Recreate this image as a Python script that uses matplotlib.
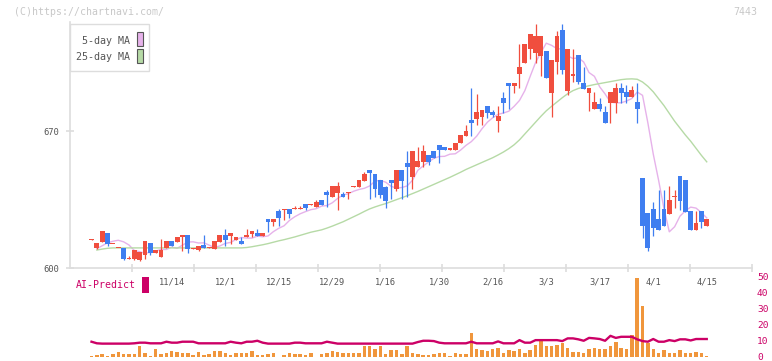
import matplotlib
matplotlib.use('Agg')
import matplotlib.pyplot as plt
import numpy as np
from matplotlib.patches import Rectangle
from matplotlib.transforms import blended_transform_factory

# ---------------- data ----------------
opens = [614.5, 610.2, 613.3, 617.9, 612.3, 610.3, 610.4, 604.8, 604.6, 604.1,
         607.0, 612.8, 607.8, 605.8, 610.4, 613.8, 613.3, 616.2, 616.9, 609.9,
         609.2, 611.8, 610.5, 609.9, 613.3, 616.9, 616.4, 614.3, 613.8, 616.2,
         617.5, 617.9, 616.5, 625.0, 623.5, 629.1, 629.6, 630.1, 630.1, 630.1,
         632.7, 632.4, 631.2, 634.7, 638.8, 636.4, 638.5, 637.8, 638.3, 641.6,
         641.5, 644.6, 650.1, 648.0, 645.0, 641.5, 645.0, 640.2, 650.1, 653.6,
         646.7, 651.8, 654.3, 657.7, 659.8, 662.9, 661.8, 660.5, 660.3, 663.7,
         667.6, 675.6, 676.3, 677.3, 682.8, 679.7, 675.3, 686.9, 694.5, 693.2,
         699.1, 704.5, 711.9, 709.8, 708.3, 711.0, 689.6, 705.4, 721.6, 690.4,
         698.3, 708.8, 694.5, 689.4, 681.2, 683.8, 679.7, 684.3, 684.3, 692.0,
         689.9, 687.4, 684.8, 646.0, 628.1, 630.1, 625.0, 630.1, 627.6, 636.5,
         647.0, 645.0, 629.1, 619.4, 629.1, 621.5]
highs = [614.9, 612.8, 618.9, 617.9, 612.6, 610.6, 610.4, 606.1, 609.2, 608.1,
         613.8, 612.8, 609.2, 614.8, 613.8, 613.8, 615.8, 616.9, 616.9, 610.6,
         611.6, 616.9, 610.8, 613.8, 616.9, 619.9, 617.9, 615.8, 615.8, 619.9,
         618.9, 619.9, 617.9, 625.0, 625.0, 630.1, 630.1, 630.1, 631.7, 631.7,
         632.7, 632.7, 634.7, 634.7, 639.9, 641.9, 644.0, 638.8, 638.8, 641.9,
         645.0, 649.1, 650.1, 648.0, 645.0, 641.9, 645.0, 650.1, 650.1, 659.8,
         659.8, 662.0, 662.9, 657.7, 659.8, 662.9, 661.8, 660.8, 663.9, 668.0,
         673.1, 691.7, 688.9, 680.7, 682.8, 680.7, 682.8, 689.9, 694.5, 694.5,
         714.5, 714.5, 719.6, 724.7, 718.6, 711.0, 706.0, 721.0, 724.7, 711.9,
         711.9, 708.8, 702.7, 692.0, 689.9, 686.9, 682.8, 689.9, 694.5, 694.5,
         693.5, 693.0, 694.5, 646.0, 628.1, 633.7, 639.9, 639.9, 641.9, 639.9,
         647.0, 645.0, 629.1, 629.1, 629.1, 625.0]
lows = [614.5, 609.6, 613.3, 611.6, 612.3, 610.3, 604.1, 604.8, 604.1, 603.8,
        604.7, 606.6, 607.8, 605.8, 610.4, 611.2, 613.3, 609.0, 607.8, 609.9,
        609.0, 610.2, 610.5, 609.9, 613.3, 611.2, 612.6, 614.3, 612.3, 616.2,
        615.8, 616.5, 616.5, 618.4, 621.5, 621.5, 624.5, 625.5, 630.1, 630.1,
        629.6, 632.4, 631.2, 632.2, 631.3, 636.4, 629.6, 636.4, 635.4, 641.6,
        641.5, 644.6, 635.1, 636.4, 636.0, 631.0, 635.4, 639.5, 635.4, 636.4,
        640.5, 651.8, 651.8, 652.9, 656.4, 653.5, 660.3, 660.5, 660.3, 663.7,
        667.6, 667.6, 673.2, 673.2, 676.5, 677.0, 669.6, 679.4, 681.2, 689.6,
        691.7, 704.5, 706.6, 704.5, 698.3, 697.2, 677.3, 699.3, 699.1, 688.4,
        695.2, 694.0, 691.5, 680.2, 681.2, 680.2, 674.1, 674.1, 679.2, 684.3,
        684.3, 687.4, 674.1, 615.3, 608.7, 616.4, 619.4, 621.5, 627.6, 630.7,
        629.6, 628.6, 619.4, 619.4, 620.4, 621.5]
closes = [614.9, 612.8, 618.9, 612.4, 612.6, 610.6, 604.8, 605.3, 609.2, 608.1,
          613.8, 607.8, 609.2, 609.2, 613.8, 611.2, 615.8, 616.9, 609.9, 610.6,
          611.6, 610.2, 610.8, 613.8, 616.9, 614.3, 617.9, 615.8, 612.3, 616.9,
          618.9, 616.5, 617.9, 623.5, 625.0, 625.5, 630.1, 627.6, 630.6, 630.6,
          630.7, 632.7, 633.7, 632.2, 637.5, 641.9, 641.9, 636.4, 638.8, 641.9,
          645.0, 648.0, 648.7, 640.5, 637.5, 634.4, 643.6, 650.1, 644.6, 651.8,
          659.8, 654.9, 659.8, 654.3, 656.4, 660.3, 660.3, 660.8, 663.9, 668.0,
          670.0, 674.2, 679.7, 680.7, 679.4, 678.3, 677.7, 684.5, 693.2, 694.5,
          702.9, 714.5, 719.6, 718.6, 718.6, 697.2, 706.0, 718.5, 701.2, 711.9,
          699.1, 695.2, 691.5, 692.0, 684.8, 681.2, 674.1, 689.9, 692.0, 689.4,
          687.4, 691.0, 681.2, 621.5, 610.2, 620.4, 619.4, 621.5, 634.7, 636.8,
          634.2, 628.6, 619.4, 623.0, 623.5, 625.0]

ma5 = [np.nan, 610.0, 611.5, 613.0, 613.8, 614.3, 613.5, 611.9, 609.1, 608.5,
       607.6, 608.2, 608.8, 609.6, 609.6, 610.8, 610.2, 611.8, 613.4, 613.5,
       612.9, 613.0, 611.8, 610.6, 611.4, 612.7, 613.2, 614.7, 615.7, 615.4,
       615.4, 616.4, 616.1, 616.5, 618.7, 620.4, 621.7, 624.4, 626.3, 627.8,
       628.9, 629.9, 630.4, 631.7, 632.0, 633.4, 635.6, 637.4, 638.0, 639.3,
       640.2, 640.8, 642.0, 644.5, 644.8, 643.9, 641.8, 640.9, 641.2, 642.0,
       644.9, 650.0, 652.2, 654.2, 656.1, 657.0, 657.1, 658.2, 658.4, 660.3,
       662.7, 664.6, 667.4, 671.2, 674.5, 676.8, 678.5, 679.2, 680.1, 682.6,
       685.6, 690.6, 697.9, 704.9, 710.0, 714.8, 713.7, 712.0, 711.8, 708.3,
       707.0, 707.3, 705.2, 699.8, 697.9, 692.5, 688.9, 684.7, 684.4, 684.4,
       685.3, 686.6, 689.9, 688.2, 674.1, 658.3, 644.9, 630.5, 618.6, 621.2,
       626.6, 629.3, 631.2, 630.7, 628.4, 625.7]
ma25 = [np.nan, 609.3, 609.8, 610.2, 610.4, 610.4, 610.4, 610.4, 610.4, 610.4,
        610.4, 610.4, 610.4, 610.4, 610.4, 610.4, 610.4, 610.4, 610.4, 610.4,
        610.4, 610.4, 610.4, 610.4, 610.4, 610.4, 610.4, 610.4, 610.4, 610.6,
        611.0, 611.5, 612.0, 612.6, 613.3, 614.0, 614.6, 615.3, 616.0, 616.8,
        617.6, 618.4, 619.0, 619.6, 620.5, 621.5, 622.6, 623.7, 625.0, 626.3,
        627.6, 629.0, 630.3, 631.3, 632.2, 633.0, 634.0, 635.0, 636.0, 637.0,
        638.1, 639.2, 640.4, 641.6, 642.8, 644.0, 645.2, 646.4, 647.7, 649.0,
        650.4, 651.6, 652.8, 654.0, 655.2, 656.4, 657.8, 659.3, 661.0, 663.0,
        665.5, 668.5, 671.5, 674.5, 677.5, 680.3, 682.6, 684.8, 687.0, 689.0,
        690.6, 691.7, 692.5, 693.1, 693.7, 694.2, 694.7, 695.2, 695.7, 696.2,
        696.5, 696.6, 696.4, 695.0, 692.8, 690.0, 686.5, 683.0, 679.0, 675.0,
        671.5, 668.0, 664.8, 661.2, 657.6, 654.3]

volume = [1, 1.5, 2, 1, 2, 3.5, 2, 2, 2, 7,
          3, 1, 5, 2, 2.5, 4, 3.5, 3, 2.5, 1.5,
          3.5, 1.5, 2, 4, 4, 3, 1.5, 2.5, 2.5, 2.5,
          4, 1.5, 1.5, 2, 2.5, 0.5, 1.5, 2.5, 2, 2,
          1.5, 3, 0.5, 2, 2.5, 4, 3.5, 2.5, 2.5, 3,
          2.5, 7, 7, 5.5, 7, 2, 4.5, 4.5, 2, 7,
          3, 2, 1.7, 1.7, 2, 3, 2.5, 1, 3, 2,
          2, 15, 5, 4.5, 4, 5.5, 6, 3, 4.5, 4,
          5, 3, 4.5, 8, 10, 7, 7, 8, 9, 6,
          3.5, 3.5, 3, 5.5, 6, 5, 5, 7, 9.5, 6,
          5, 14, 50, 32, 9, 5.5, 3, 4.5, 2.5, 2.5,
          4.5, 2.5, 2.5, 3.5, 3, 1]
ai_predict = [9.8, 8.8, 8.6, 8.6, 8.6, 8.6, 8.6, 8.6, 8.8, 9.2,
              9.2, 8.8, 8.8, 8.8, 9.8, 9.2, 9.2, 9.8, 9.8, 9.8,
              8.8, 8.8, 8.8, 8.8, 8.8, 8.8, 9.8, 9.2, 8.8, 9.8,
              9.8, 10.4, 9.2, 8.6, 8.6, 8.6, 8.6, 8.6, 9.2, 9.2,
              8.8, 8.8, 8.8, 8.8, 9.8, 9.2, 8.6, 8.6, 8.6, 8.6,
              8.6, 8.6, 8.6, 8.6, 8.6, 8.6, 8.6, 8.6, 8.6, 8.6,
              8.6, 9.6, 10.4, 10.4, 10.2, 9.2, 8.8, 8.8, 8.8, 8.8,
              8.8, 9.8, 8.8, 8.8, 8.8, 8.8, 10.0, 8.8, 8.8, 8.8,
              10.8, 9.2, 9.2, 10.8, 10.8, 10.8, 10.8, 10.8, 10.2, 11.9,
              11.9, 11.3, 10.4, 12.2, 11.9, 11.5, 10.4, 13.5, 12.2, 12.9,
              12.9, 12.9, 11.3, 10.2, 9.8, 11.5, 9.8, 9.8, 10.8, 10.2,
              11.3, 11.3, 10.6, 11.5, 11.5, 11.5]

date_labels = ['11/14', '12/1', '12/15', '12/29', '1/16', '1/30',
               '2/16', '3/3', '3/17', '4/1', '4/15']
date_label_idx = [15, 25, 35, 45, 55, 65, 75, 85, 95, 105, 115]
price_ticks = [600, 670]
vol_ticks = [0, 10, 20, 30, 40, 50]

# ---------------- style ----------------
RED = '#f04e3e'
BLUE = '#3f7ef0'
PINK = '#e6b2ea'
GREEN = '#b6daa6'
CRIMSON = '#cc0066'
ORANGE = '#f0963c'
AXIS = '#dddddd'
TXT = '#555555'
MONO = 'DejaVu Sans Mono'

W, H = 772, 361
fig = plt.figure(figsize=(W / 100, H / 100), dpi=100)


def px_axes(x0, y0, x1, y1):
    return fig.add_axes([x0 / W, 1 - y1 / H, (x1 - x0) / W, (y1 - y0) / H])


n = len(closes)
x = np.arange(n)
XL = (-4.02, 123.46)

# ---------------- volume / AI panel (drawn first, transparent) ----------------
ax2 = px_axes(70, 277.8, 752, 357.3)
ax2.set_facecolor('none')
ax2.set_xlim(*XL)
ax2.set_ylim(0, 50)
ax2.bar(x, volume, width=0.65, color=ORANGE, linewidth=0, zorder=2)
ax2.plot(x, ai_predict, color=CRIMSON, lw=1.7, zorder=3)
for s in ax2.spines.values():
    s.set_visible(False)
ax2.set_xticks([])
ax2.set_yticks([])
for v in vol_ticks:
    ax2.text(1.0, v, str(v), transform=blended_transform_factory(ax2.transAxes, ax2.transData),
             ha='left', va='center', fontsize=6.8, color=CRIMSON, fontfamily=MONO,
             clip_on=False)
# shift right-hand labels by a few pixels
for t in ax2.texts:
    t.set_x(1.0 + 5 / 682)

# ---------------- price panel ----------------
ax = px_axes(70, 22, 752, 268.3)
ax.set_facecolor('none')
ax.set_xlim(*XL)
ax.set_ylim(600, 600 + (268.3 - 22) / 1.961)

o = np.array(opens); c = np.array(closes)
up = c >= o
cols = [RED if u else BLUE for u in up]
ax.vlines(x, lows, highs, colors=cols, linewidth=0.9, zorder=3)
bottoms = np.minimum(o, c)
heights = np.maximum(np.abs(c - o), 0.6)
ax.bar(x, heights, bottom=bottoms, width=0.9, color=cols, linewidth=0, zorder=4)

ax.plot(x, ma5, color=PINK, lw=1.0, zorder=2)
ax.plot(x, ma25, color=GREEN, lw=1.0, zorder=2)

for s in ['top', 'right']:
    ax.spines[s].set_visible(False)
for s in ['left', 'bottom']:
    ax.spines[s].set_color(AXIS)
    ax.spines[s].set_linewidth(1.2)

ax.set_yticks(price_ticks)
ax.set_yticklabels([str(t) for t in price_ticks], fontfamily=MONO)
ax.tick_params(axis='y', direction='inout', length=6, color=AXIS, width=1.2,
               labelsize=6.3, labelcolor=TXT, pad=5)
major = [XL[0] + k * (XL[1] - XL[0]) / 11 for k in range(1, 12)]
ax.set_xticks(major)
ax.set_xticklabels([])
ax.tick_params(axis='x', direction='inout', length=6, color=AXIS, width=1.2)

tr = blended_transform_factory(ax.transData, ax.transAxes)
for idx, lab in zip(date_label_idx, date_labels):
    ax.text(idx, -0.056, lab, transform=tr, ha='center', va='center',
            fontsize=6.3, color=TXT, fontfamily=MONO, clip_on=False, zorder=10)

# ---------------- decorations ----------------
fig.text(14 / W, 1 - 12.3 / H, '(C)https://chartnavi.com/', fontsize=7.1,
         color='#c8c8c8', fontfamily=MONO, va='center', ha='left')
fig.text(757 / W, 1 - 12.3 / H, '7443', fontsize=7.1, color='#c8c8c8',
         fontfamily=MONO, va='center', ha='right')

fig.patches.append(Rectangle((70 / W, 1 - 71 / H), 79 / W, 47 / H,
                             transform=fig.transFigure, facecolor='white',
                             edgecolor=AXIS, linewidth=1.0, zorder=5))
fig.text(130 / W, 1 - 40.7 / H, '5-day MA', fontsize=7.2, color=TXT,
         fontfamily=MONO, ha='right', va='center', zorder=6)
fig.text(130 / W, 1 - 57.3 / H, '25-day MA', fontsize=7.2, color=TXT,
         fontfamily=MONO, ha='right', va='center', zorder=6)
fig.patches.append(Rectangle((137 / W, 1 - 46 / H), 5.5 / W, 14.5 / H,
                             transform=fig.transFigure, facecolor=PINK,
                             edgecolor='#555555', linewidth=0.8, zorder=6))
fig.patches.append(Rectangle((137 / W, 1 - 63 / H), 5.5 / W, 14.5 / H,
                             transform=fig.transFigure, facecolor=GREEN,
                             edgecolor='#555555', linewidth=0.8, zorder=6))

fig.text(75.7 / W, 1 - 285.5 / H, 'AI-Predict', fontsize=7.1, color=CRIMSON,
         fontfamily=MONO, ha='left', va='center')
fig.patches.append(Rectangle((142 / W, 1 - 292.7 / H), 7 / W, 15.4 / H,
                             transform=fig.transFigure, facecolor=CRIMSON,
                             edgecolor='none', zorder=6))

fig.savefig('out.png', dpi=100, facecolor='white')
